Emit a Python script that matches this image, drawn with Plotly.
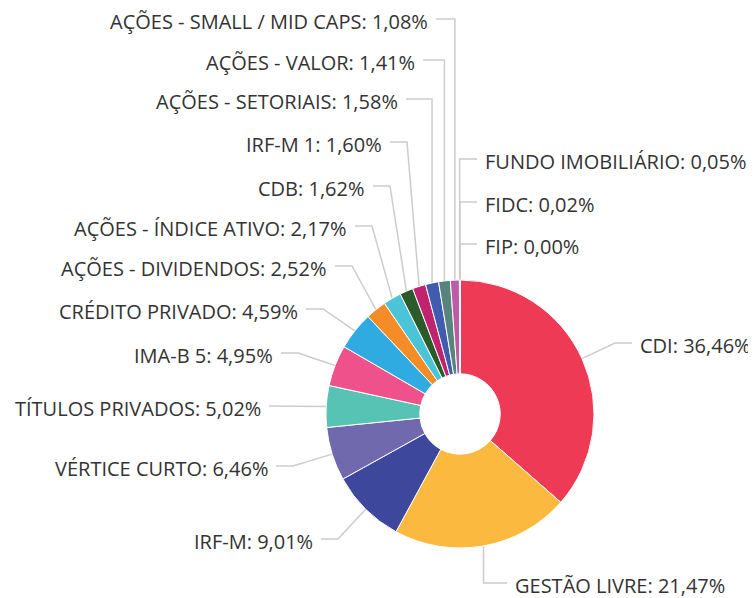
import math
import plotly.graph_objects as go

# ---------------- data ----------------
CATEGORIES = [
    "CDI", "GESTÃO LIVRE", "IRF-M", "VÉRTICE CURTO", "TÍTULOS PRIVADOS",
    "IMA-B 5", "CRÉDITO PRIVADO", "AÇÕES - DIVIDENDOS", "AÇÕES - ÍNDICE ATIVO",
    "CDB", "IRF-M 1", "AÇÕES - SETORIAIS", "AÇÕES - VALOR",
    "AÇÕES - SMALL / MID CAPS", "FUNDO IMOBILIÁRIO", "FIDC", "FIP",
]
VALUES = [36.46, 21.47, 9.01, 6.46, 5.02, 4.95, 4.59, 2.52, 2.17,
          1.62, 1.60, 1.58, 1.41, 1.08, 0.05, 0.02, 0.00]

# ---------------- styles / layout ----------------
COLORS = ["#EE3A55", "#FBB940", "#3D479C", "#7169AE", "#56C3B4",
          "#EF528A", "#2FABE1", "#F48C28", "#4AC4D6", "#2B5B2B",
          "#C0236F", "#3F5CAE", "#57857E", "#BC5CA6", "#8A8A8A",
          "#6A6A6A", "#4A4A4A"]
# label side and text edge near the pie (x) and connector level (y), window pixels
LABEL_SIDE = ["R", "R", "L", "L", "L", "L", "L", "L", "L",
              "L", "L", "L", "L", "L", "R", "R", "R"]
LABEL_X = [640, 515, 313, 268, 261, 273, 298, 327, 347,
           365, 382, 398, 415, 428, 485, 485, 485]
LABEL_Y = [343, 583, 539, 466, 406, 353, 309, 266, 226,
           186, 142, 99, 60, 19, 159, 202, 244]

WIN_W, WIN_H = 756, 598
PAD = 8                       # page body margin
W, H = WIN_W - PAD, WIN_H - PAD
CX, CY, R = 460, 414, 134     # window pixels
HOLE = 0.30
GAP, RUN = 8, 17
TEXT_PAD = 2                  # annotation box padding
LINE_COLOR = "#cccccc"
FONT = "Open Sans"
TEXT_COLOR = "#333333"

fig = go.Figure()

total = sum(VALUES)
cum = 0.0
for i, v in enumerate(VALUES):
    a = 2 * math.pi * (cum + v / 2) / total
    cum += v
    ex = CX + R * math.sin(a)
    ey = CY - R * math.cos(a)
    left = LABEL_SIDE[i] == "L"
    if left:
        sx = LABEL_X[i] + GAP
        bx = sx + RUN
    else:
        sx = LABEL_X[i] - GAP
        bx = sx - RUN
    if abs(ex - bx) < 10:
        bx = ex
    fig.add_trace(go.Scatter(
        x=[sx, bx, ex], y=[LABEL_Y[i], LABEL_Y[i], ey],
        mode="lines", line=dict(color=LINE_COLOR, width=1.5),
        hoverinfo="skip", showlegend=False,
    ))
    fig.add_annotation(
        x=LABEL_X[i] + (TEXT_PAD if left else -TEXT_PAD),
        y=LABEL_Y[i] + 2, xref="x", yref="y",
        text=f"{CATEGORIES[i]}: {v:.2f}".replace(".", ",") + "%",
        showarrow=False,
        xanchor="right" if left else "left",
        yanchor="middle",
        font=dict(family=FONT, size=20, color=TEXT_COLOR),
    )

fcx, fcy = CX - PAD, CY - PAD
fig.add_trace(go.Pie(
    labels=CATEGORIES, values=VALUES, hole=HOLE, sort=False,
    direction="clockwise", rotation=0,
    marker=dict(colors=COLORS, line=dict(color="#ffffff", width=1)),
    textinfo="none", showlegend=False,
    domain=dict(x=[(fcx - R) / W, (fcx + R) / W],
                y=[(H - fcy - R) / H, (H - fcy + R) / H]),
))

fig.update_layout(
    width=W, height=H,
    margin=dict(l=0, r=0, t=0, b=0),
    paper_bgcolor="white", plot_bgcolor="white",
    showlegend=False,
    xaxis=dict(range=[PAD, WIN_W], visible=False, fixedrange=True),
    yaxis=dict(range=[WIN_H, PAD], visible=False, fixedrange=True),
)

fig.write_html("out.html")
